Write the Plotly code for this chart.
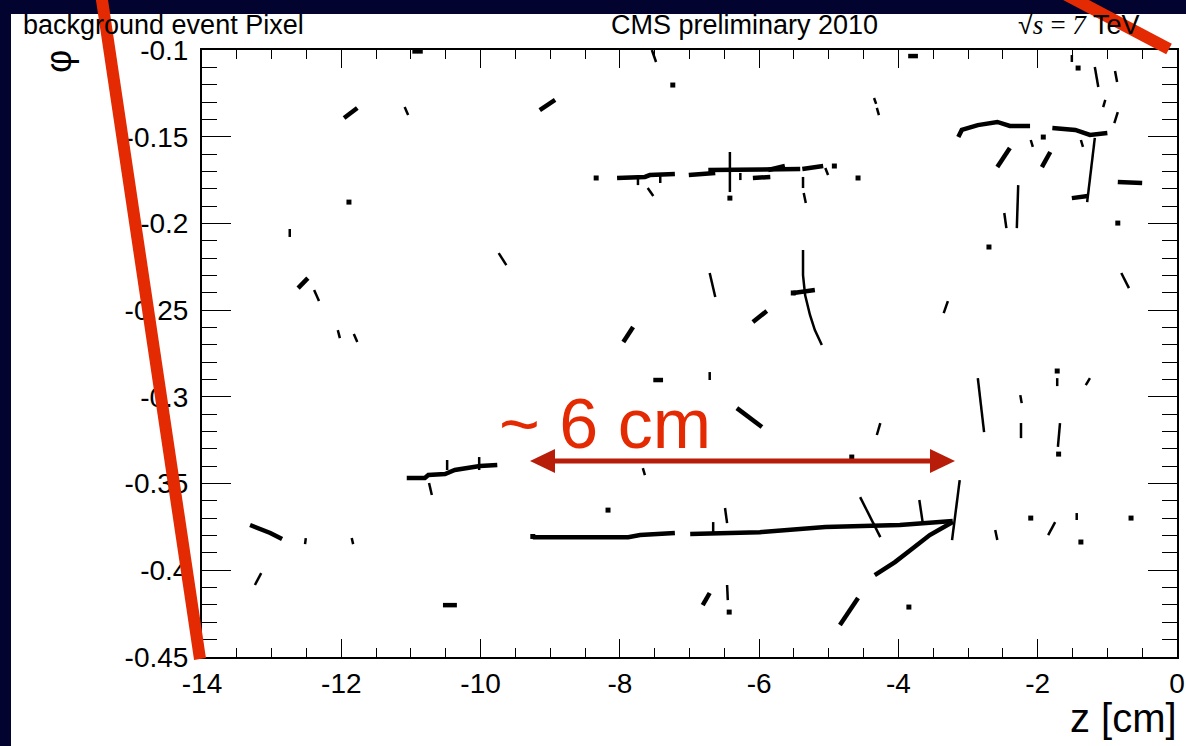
import plotly.graph_objects as go

# ---------------- data (z in cm, phi in rad) ----------------
N = None
# thick pixel-hit chains
thick_z = [-10.98, -10.83, N, -11.96, -11.77, N, -12.62, -12.48, N, -9.15, -8.93, N,
           -8.04, -7.64, -7.57, -7.21, N, -7.01, -6.63, N, -6.73, -5.41, N,
           -6.09, -5.84, N, -5.87, -5.63, N, -5.38, -5.08, N,
           -3.14, -3.09, -2.86, -2.58, -2.40, -2.11, N, -1.79, -1.46, -1.25, -1.00, N,
           -0.85, -0.50, N, -1.51, -1.28, N, -6.09, -5.89, N, -5.51, -5.20, N,
           -11.06, -10.80, -10.75, -10.51, -10.37, -10.01, -9.76, N,
           -9.25, -7.88, -7.71, -7.21, N, -6.99, -5.99, -5.05, -3.98, -3.22, N,
           -3.22, -3.55, -3.83, -4.05, -4.34, N, -13.31, -13.14, -13.02, -12.85, N,
           -6.32, -5.96, N, -10.54, -10.34, N, -4.84, -4.58, N, -6.81, -6.71, N,
           -7.52, -7.38, N, -7.95, -7.81, N, -3.86, -3.72, N, -2.58, -2.40, N, -1.94, -1.82]
thick_phi = [-0.1008, -0.1008, N, -0.1392, -0.1334, N, -0.2373, -0.2315, N, -0.1346, -0.1288, N,
             -0.1738, -0.1732, -0.1721, -0.1715, N, -0.1721, -0.1709, N, -0.1692, -0.1686, N,
             -0.1738, -0.1732, N, -0.1692, -0.1669, N, -0.1686, -0.1669, N,
             -0.1502, -0.1461, -0.1433, -0.1415, -0.1438, -0.1438, N, -0.1450, -0.1461, -0.1490, -0.1479, N,
             -0.1761, -0.1767, N, -0.1854, -0.1842, N, -0.2569, -0.2505, N, -0.2401, -0.2384, N,
             -0.3468, -0.3468, -0.3451, -0.3445, -0.3422, -0.3399, -0.3393, N,
             -0.3809, -0.3809, -0.3797, -0.3785, N, -0.3791, -0.3780, -0.3751, -0.3739, -0.3716, N,
             -0.3722, -0.3797, -0.3884, -0.3953, -0.4028, N, -0.3739, -0.3762, -0.3785, -0.3820, N,
             -0.3065, -0.3174, N, -0.4201, -0.4201, N, -0.4316, -0.4160, N, -0.4201, -0.4131, N,
             -0.2903, -0.2903, N, -0.2684, -0.2597, N, -0.1035, -0.1035, N, -0.1675, -0.1565, N, -0.1675, -0.1588]

# thin pixel-hit chains
thin_z = [-11.09, -11.04, N, -12.74, -12.74, N, -9.74, -9.63, N, -12.39, -12.36, -12.32, N,
          -12.05, -12.02, N, -11.82, -11.77, N, -7.54, -7.48, N, -7.60, -7.52, N,
          -6.42, -6.42, N, -6.27, -6.27, N, -5.37, -5.37, N, -5.36, -5.33, N, -5.05, -5.01, N,
          -5.37, -5.37, -5.34, -5.27, -5.20, -5.10, N, -6.71, -6.63, N,
          -4.35, -4.32, N, -4.31, -4.28, N, -1.51, -1.51, N, -1.18, -1.13, N, -0.89, -0.86, N,
          -1.03, -1.06, N, -0.85, -0.90, N, -2.10, -2.07, N, -1.38, -1.35, N, -1.18, -1.29, N,
          -2.28, -2.30, N, -2.48, -2.45, N, -0.80, -0.69, N, -3.29, -3.35, N,
          -10.74, -10.70, N, -10.48, -10.48, N, -10.02, -10.02, N, -7.67, -7.64, N,
          -12.51, -12.52, N, -11.85, -11.83, N, -13.24, -13.15, N, -4.26, -4.31, N,
          -2.86, -2.77, N, -2.25, -2.23, N, -2.24, -2.24, N, -1.72, -1.72, N, -1.25, -1.31, N,
          -1.68, -1.71, N, -6.66, -6.66, N, -6.49, -6.46, N, -4.55, -4.26, N, -3.70, -3.65, N,
          -3.12, -3.23, N, -6.46, -6.45, N, -2.61, -2.58, N, -1.75, -1.85, N, -1.44, -1.44, N,
          -6.71, -6.71, N, -7.74, -7.74, N, -7.42, -7.42]
thin_phi = [-0.1329, -0.1375, N, -0.2032, -0.2078, N, -0.2171, -0.2240, N, -0.2384, -0.2413, -0.2448, N,
            -0.2615, -0.2661, N, -0.2638, -0.2684, N, -0.1000, -0.1069, N, -0.1796, -0.1842, N,
            -0.1588, -0.1819, N, -0.1709, -0.1750, N, -0.1732, -0.1796, N, -0.1825, -0.1882, N, -0.1680, -0.1721, N,
            -0.2153, -0.2298, -0.2413, -0.2528, -0.2615, -0.2701, N, -0.2286, -0.2424, N,
            -0.1277, -0.1311, N, -0.1334, -0.1375, N, -0.1029, -0.1069, N, -0.1098, -0.1213, N, -0.1121, -0.1185, N,
            -0.1288, -0.1329, N, -0.1358, -0.1421, N, -0.1519, -0.1559, N, -0.1519, -0.1559, N, -0.1507, -0.1877, N,
            -0.1779, -0.2027, N, -0.1940, -0.2027, N, -0.2286, -0.2373, N, -0.2448, -0.2517, N,
            -0.3497, -0.3566, N, -0.3364, -0.3422, N, -0.3347, -0.3422, N, -0.3411, -0.3451, N,
            -0.3814, -0.3849, N, -0.3814, -0.3849, N, -0.4085, -0.4016, N, -0.3151, -0.3220, N,
            -0.2892, -0.3203, N, -0.2990, -0.3036, N, -0.3151, -0.3238, N, -0.2892, -0.2938, N, -0.2892, -0.2932, N,
            -0.3151, -0.3289, N, -0.3722, -0.3780, N, -0.3641, -0.3728, N, -0.3578, -0.3809, N, -0.3595, -0.3728, N,
            -0.3480, -0.3826, N, -0.4085, -0.4172, N, -0.3768, -0.3826, N, -0.3722, -0.3797, N, -0.3670, -0.3710, N,
            -0.2857, -0.2903, N, -0.1738, -0.1779, N, -0.1727, -0.1767]

# isolated hits
dot_z = [-11.89, -7.24, -8.34, -4.92, -4.58, -1.42, -1.92, -2.70, -0.85, -6.42,
         -8.17, -3.85, -2.10, -1.38, -0.66, -1.72, -1.70, -6.43, -4.67, -5.51, -9.25]
dot_phi = [-0.1877, -0.1202, -0.1738, -0.1669, -0.1738, -0.1104, -0.1502, -0.2136, -0.1998, -0.1854,
           -0.3653, -0.4212, -0.3699, -0.3837, -0.3699, -0.2851, -0.3330, -0.4241, -0.3347, -0.2401, -0.3805]

x_tick_vals = [-14, -12, -10, -8, -6, -4, -2, 0]
x_tick_text = ["-14", "-12", "-10", "-8", "-6", "-4", "-2", "0"]
y_tick_vals = [-0.45, -0.4, -0.35, -0.3, -0.25, -0.2, -0.15, -0.1]
y_tick_text = ["-0.45", "-0.4", "-0.35", "-0.3", "-0.25", "-0.2", "-0.15", "-0.1"]

# ---------------- layout helpers (pixel -> paper) ----------------
W, H = 1186, 746
L, R, T, B = 202, 9, 50, 89
PW, PH = W - L - R, H - T - B


def px(X):
    return (X - L) / PW


def py(Y):
    return (H - B - Y) / PH


FONT = "Liberation Sans, Arial, Helvetica, sans-serif"
NAVY = "#02032e"
RED = "#e42a02"
DARKRED = "#b81d0a"

fig = go.Figure()
fig.add_trace(go.Scatter(x=thick_z, y=thick_phi, mode="lines",
                         line=dict(color="black", width=4.5), hoverinfo="skip", showlegend=False))
fig.add_trace(go.Scatter(x=thin_z, y=thin_phi, mode="lines",
                         line=dict(color="black", width=2.5), hoverinfo="skip", showlegend=False))
fig.add_trace(go.Scatter(x=dot_z, y=dot_phi, mode="markers",
                         marker=dict(color="black", size=5, symbol="square"),
                         hoverinfo="skip", showlegend=False))

axis_common = dict(showgrid=False, zeroline=False, showline=True, linewidth=2, linecolor="black",
                   mirror="ticks", ticks="inside", tickwidth=1, tickcolor="black",
                   tickmode="array", tickfont=dict(family=FONT, size=28, color="black"))

fig.update_xaxes(range=[-14, 0], tickvals=x_tick_vals, ticktext=x_tick_text, ticklen=18,
                 minor=dict(tick0=-14, dtick=0.5, ticks="inside", ticklen=9, tickwidth=1, tickcolor="black"),
                 ticklabelstandoff=0, **axis_common)
fig.update_yaxes(range=[-0.45, -0.1], tickvals=y_tick_vals, ticktext=y_tick_text, ticklen=29,
                 minor=dict(tick0=-0.45, dtick=0.01, ticks="inside", ticklen=15, tickwidth=1, tickcolor="black"),
                 ticklabelstandoff=6, **axis_common)

shapes = [
    dict(type="rect", xref="paper", yref="paper", x0=px(0), x1=px(W), y0=py(0), y1=py(14),
         fillcolor=NAVY, line=dict(width=0), layer="above"),
    dict(type="rect", xref="paper", yref="paper", x0=px(0), x1=px(11), y0=py(0), y1=py(H),
         fillcolor=NAVY, line=dict(width=0), layer="above"),
    dict(type="line", xref="paper", yref="paper", x0=px(100.5), y0=py(-10), x1=px(200), y1=py(659),
         line=dict(color=RED, width=12), layer="above"),
    dict(type="line", xref="paper", yref="paper", x0=px(1057), y0=py(-10), x1=px(1169), y1=py(49),
         line=dict(color=RED, width=12), layer="above"),
    dict(type="line", xref="paper", yref="paper", x0=px(550), y0=py(461), x1=px(935), y1=py(461),
         line=dict(color=DARKRED, width=5), layer="above"),
    dict(type="path", xref="paper", yref="paper",
         path=f"M {px(530)},{py(461)} L {px(555)},{py(449)} L {px(555)},{py(473)} Z",
         fillcolor=DARKRED, line=dict(width=0), layer="above"),
    dict(type="path", xref="paper", yref="paper",
         path=f"M {px(955)},{py(461)} L {px(930)},{py(449)} L {px(930)},{py(473)} Z",
         fillcolor=DARKRED, line=dict(width=0), layer="above"),
]

annotations = [
    dict(text="background event Pixel", x=px(21), y=py(25), xanchor="left", yanchor="middle",
         font=dict(family=FONT, size=27, color="black")),
    dict(text="CMS preliminary 2010", x=px(744), y=py(25), xanchor="center", yanchor="middle",
         font=dict(family=FONT, size=27, color="black")),
    dict(text="√<span style='font-family:Liberation Serif;font-style:italic'>s\u2009=\u20097</span> TeV",
         x=px(1016), y=py(25), xanchor="left", yanchor="middle",
         font=dict(family=FONT, size=27, color="black")),
    dict(text="φ", x=px(58), y=py(62), xanchor="center", yanchor="middle", textangle=-90,
         font=dict(family=FONT, size=36, color="black")),
    dict(text="z [cm]", x=px(1179), y=py(718), xanchor="right", yanchor="middle",
         font=dict(family=FONT, size=40, color="black")),
    dict(text="~ 6 cm", x=px(605), y=py(424), xanchor="center", yanchor="middle",
         font=dict(family=FONT, size=70, color=RED)),
]
for a in annotations:
    a.update(xref="paper", yref="paper", showarrow=False)

fig.update_layout(width=W, height=H, margin=dict(l=L, r=R, t=T, b=B, autoexpand=False),
                  paper_bgcolor="white", plot_bgcolor="white",
                  shapes=shapes, annotations=annotations, showlegend=False)

fig.write_html("out.html", config={"displayModeBar": False})
